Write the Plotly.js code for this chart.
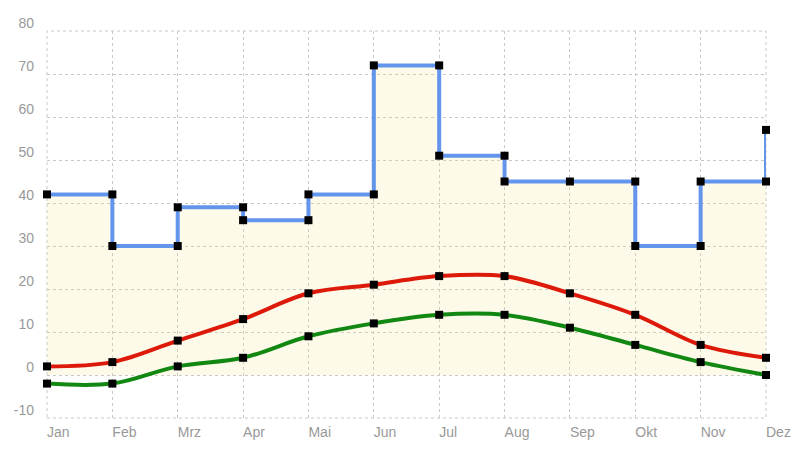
<!DOCTYPE html>
<html>
<head>
<meta charset="utf-8">
<script src="https://cdn.plot.ly/plotly-3.0.1.min.js"></script>
<style>
  html, body { margin: 0; padding: 0; background: #fff; }
  #chart { width: 807px; height: 449px; }
</style>
</head>
<body>
<div id="chart"></div>
<script>
let months = ['Jan', 'Feb', 'Mrz', 'Apr', 'Mai', 'Jun', 'Jul', 'Aug', 'Sep', 'Okt', 'Nov', 'Dez'];
let precipitation = [42, 30, 39, 36, 42, 72, 51, 45, 45, 30, 45, 57];
let tempMax = [2, 3, 8, 13, 19, 21, 23, 23, 19, 14, 7, 4];
let tempMin = [-2, -2, 2, 4, 9, 12, 14, 14, 11, 7, 3, 0];
let yTicks = [-10, 0, 10, 20, 30, 40, 50, 60, 70, 80];

// step line: each month carries the previous value first, then its own
function stepPoints(xs, ys) {
  let sx = [], sy = [];
  for (let i = 0; i < xs.length; i++) {
    if (i > 0 && ys[i] !== ys[i - 1]) {
      sx.push(xs[i]);
      sy.push(ys[i - 1]);
    }
    sx.push(xs[i]);
    sy.push(ys[i]);
  }
  return [sx, sy];
}

let [stepX, stepY] = stepPoints(months, precipitation);

let marker = { symbol: 'square', size: 8, color: '#000' };

let traces = [
  {
    x: stepX,
    y: stepY,
    mode: 'lines+markers',
    line: { color: '#6495ed', width: 4 },
    marker: marker,
    fill: 'tozeroy',
    fillcolor: 'rgba(245,225,140,0.18)',
    cliponaxis: false,
    hoverinfo: 'skip'
  },
  {
    x: months,
    y: tempMax,
    mode: 'lines+markers',
    line: { color: '#dd1a0a', width: 4, shape: 'spline', smoothing: 1 },
    marker: marker,
    cliponaxis: false
  },
  {
    x: months,
    y: tempMin,
    mode: 'lines+markers',
    line: { color: '#128812', width: 4, shape: 'spline', smoothing: 1 },
    marker: marker,
    cliponaxis: false
  }
];

let gridColor = '#c8c8c8';

let gridStyle = {
  showgrid: true,
  gridcolor: gridColor,
  gridwidth: 1,
  griddash: 'dot',
  zeroline: false,
  showline: false,
  ticks: '',
  tickfont: { family: 'Liberation Sans, Arial, sans-serif', size: 14, color: '#999' }
};

let layout = {
  width: 807,
  height: 449,
  margin: { l: 47, r: 41, t: 31, b: 31 },
  paper_bgcolor: '#fff',
  plot_bgcolor: '#fff',
  showlegend: false,
  xaxis: Object.assign({}, gridStyle, {
    type: 'category',
    categoryorder: 'array',
    categoryarray: months,
    range: [0, months.length - 1],
    ticklabelposition: 'outside right',
    ticklabelstandoff: 4
  }),
  yaxis: Object.assign({}, gridStyle, {
    range: [-10, 80],
    tickvals: yTicks,
    ticktext: yTicks.map(String),
    ticklabelshift: -8,
    ticklabelstandoff: 12
  }),
  // dotted frame: plotly skips gridlines sitting on the plot edges
  shapes: [{
    type: 'rect', xref: 'paper', yref: 'paper',
    x0: 0, x1: 1, y0: 0, y1: 1,
    layer: 'below',
    line: { color: gridColor, width: 1, dash: 'dot' }
  }]
};

Plotly.newPlot(document.getElementById('chart'), traces, layout, { displayModeBar: false, staticPlot: true });
</script>
</body>
</html>
